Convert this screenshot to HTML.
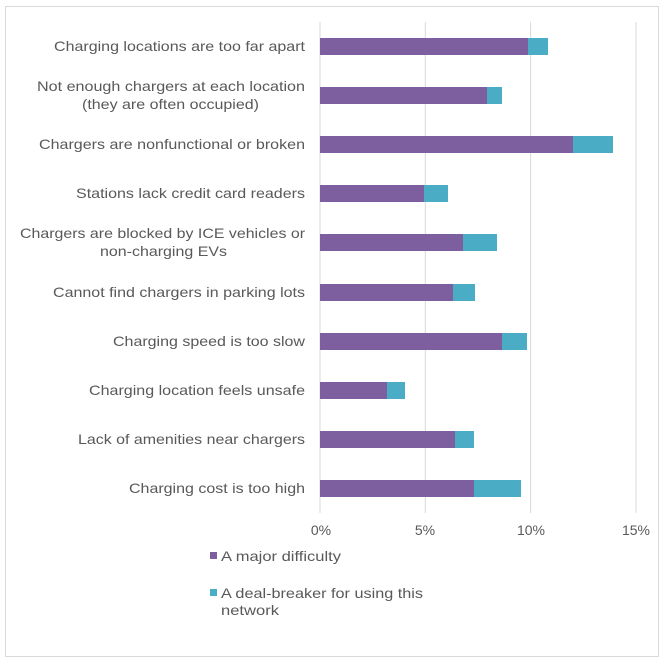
<!DOCTYPE html>
<html><head><meta charset="utf-8"><style>
html,body{margin:0;padding:0;background:#fff;}
svg{display:block;font-family:"Liberation Sans",sans-serif;}
text{fill:#595959;font-size:14px;}
</style></head><body>
<svg width="670" height="663" viewBox="0 0 670 663">
<rect x="5.5" y="6.5" width="653" height="650" fill="#fff" stroke="#d9d9d9" stroke-width="1"/>
<g stroke="#d9d9d9" stroke-width="1">
<line x1="320" y1="22" x2="320" y2="513"/>
<line x1="425.3" y1="22" x2="425.3" y2="513"/>
<line x1="530.6" y1="22" x2="530.6" y2="513"/>
<line x1="636" y1="22" x2="636" y2="513"/>
</g>
<g>
<rect x="320" y="38" width="208" height="17" fill="#7d5fa0"/><rect x="528" y="38" width="20" height="17" fill="#4bacc6"/>
<rect x="320" y="87" width="167" height="17" fill="#7d5fa0"/><rect x="487" y="87" width="15" height="17" fill="#4bacc6"/>
<rect x="320" y="136" width="253" height="17" fill="#7d5fa0"/><rect x="573" y="136" width="40" height="17" fill="#4bacc6"/>
<rect x="320" y="185" width="104" height="17" fill="#7d5fa0"/><rect x="424" y="185" width="24" height="17" fill="#4bacc6"/>
<rect x="320" y="234" width="143" height="17" fill="#7d5fa0"/><rect x="463" y="234" width="34" height="17" fill="#4bacc6"/>
<rect x="320" y="284" width="133" height="17" fill="#7d5fa0"/><rect x="453" y="284" width="22" height="17" fill="#4bacc6"/>
<rect x="320" y="333" width="182" height="17" fill="#7d5fa0"/><rect x="502" y="333" width="25" height="17" fill="#4bacc6"/>
<rect x="320" y="382" width="67" height="17" fill="#7d5fa0"/><rect x="387" y="382" width="18" height="17" fill="#4bacc6"/>
<rect x="320" y="431" width="135" height="17" fill="#7d5fa0"/><rect x="455" y="431" width="19" height="17" fill="#4bacc6"/>
<rect x="320" y="480" width="154" height="17" fill="#7d5fa0"/><rect x="474" y="480" width="47" height="17" fill="#4bacc6"/>
</g>
<g text-anchor="end">
<text x="305" y="51" textLength="251" lengthAdjust="spacingAndGlyphs">Charging locations are too far apart</text>
<text x="305" y="91" textLength="268" lengthAdjust="spacingAndGlyphs">Not enough chargers at each location</text>
<text x="259" y="109" textLength="177" lengthAdjust="spacingAndGlyphs">(they are often occupied)</text>
<text x="305" y="149" textLength="266" lengthAdjust="spacingAndGlyphs">Chargers are nonfunctional or broken</text>
<text x="305" y="198" textLength="229" lengthAdjust="spacingAndGlyphs">Stations lack credit card readers</text>
<text x="305" y="238" textLength="285" lengthAdjust="spacingAndGlyphs">Chargers are blocked by ICE vehicles or</text>
<text x="227" y="256" textLength="127" lengthAdjust="spacingAndGlyphs">non-charging EVs</text>
<text x="305" y="297" textLength="252" lengthAdjust="spacingAndGlyphs">Cannot find chargers in parking lots</text>
<text x="305" y="346" textLength="192" lengthAdjust="spacingAndGlyphs">Charging speed is too slow</text>
<text x="305" y="395" textLength="216" lengthAdjust="spacingAndGlyphs">Charging location feels unsafe</text>
<text x="305" y="444" textLength="227" lengthAdjust="spacingAndGlyphs">Lack of amenities near chargers</text>
<text x="305" y="493" textLength="176" lengthAdjust="spacingAndGlyphs">Charging cost is too high</text>
</g>
<g text-anchor="middle" style="font-size:13px">
<text x="321" y="535">0%</text>
<text x="425" y="535">5%</text>
<text x="531" y="535">10%</text>
<text x="636" y="535">15%</text>
</g>
<rect x="210" y="552" width="7" height="7" fill="#7d5fa0"/>
<text x="221" y="561" textLength="120" lengthAdjust="spacingAndGlyphs">A major difficulty</text>
<rect x="210" y="589" width="7" height="7" fill="#4bacc6"/>
<text x="221" y="598" textLength="202" lengthAdjust="spacingAndGlyphs">A deal-breaker for using this</text>
<text x="221" y="615" textLength="58" lengthAdjust="spacingAndGlyphs">network</text>
</svg>
</body></html>
